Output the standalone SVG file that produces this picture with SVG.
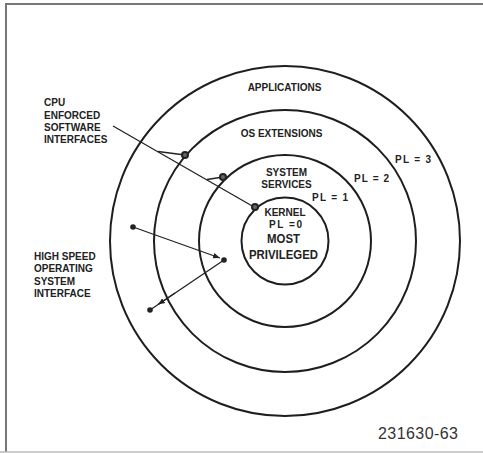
<svg xmlns="http://www.w3.org/2000/svg" width="483" height="453" viewBox="0 0 483 453">
<style>
.ring{fill:none;stroke:#1e1e1e;stroke-width:2}
.lbl{font-family:"Liberation Sans",Arial,sans-serif;font-weight:bold;font-size:10px;fill:#222}
.big{font-family:"Liberation Sans",Arial,sans-serif;font-weight:bold;font-size:13px;fill:#222}
.num{font-family:"Liberation Sans",Arial,sans-serif;font-size:16px;fill:#333}
.ln{fill:none;stroke:#222;stroke-width:1.3}
.port{fill:#666;stroke:#222;stroke-width:2}
.dot{fill:#222}
</style>
<defs>
<marker id="ah" viewBox="0 0 10 10" refX="10" refY="5" markerWidth="7" markerHeight="7" markerUnits="userSpaceOnUse" orient="auto">
<path d="M0,1 L10,5 L0,9 Z" fill="#222"/>
</marker>
</defs>
<rect width="483" height="453" fill="#fff"/>
<g id="frame">
<path d="M6,452 V4 H483" fill="none" stroke="#777" stroke-width="2"/>
<path d="M0,452 H483" fill="none" stroke="#bbb" stroke-width="1.5"/>
</g>
<g id="applications">
<circle class="ring" cx="285" cy="241" r="175"/>
<text class="lbl" x="284.5" y="91" text-anchor="middle">APPLICATIONS</text>
<text class="lbl" x="395" y="163" textLength="36" lengthAdjust="spacing">PL = 3</text>
</g>
<g id="os-extensions">
<circle class="ring" cx="285" cy="241" r="131"/>
<text class="lbl" x="281.5" y="137" text-anchor="middle">OS EXTENSIONS</text>
<text class="lbl" x="354" y="182" textLength="35" lengthAdjust="spacing">PL = 2</text>
</g>
<g id="system-services">
<circle class="ring" cx="285" cy="241" r="86"/>
<text class="lbl" x="286.5" y="176" text-anchor="middle">SYSTEM</text>
<text class="lbl" x="286.5" y="188" text-anchor="middle">SERVICES</text>
<text class="lbl" x="312" y="201" textLength="36" lengthAdjust="spacing">PL = 1</text>
</g>
<g id="kernel">
<circle class="ring" cx="285" cy="241" r="43.5"/>
<text class="lbl" x="285" y="216" text-anchor="middle" font-size="10.5">KERNEL</text>
<text class="lbl" x="269" y="228" textLength="33" lengthAdjust="spacing">PL =0</text>
<text class="big" x="267" y="243" textLength="33" lengthAdjust="spacingAndGlyphs">MOST</text>
<text class="big" x="249" y="259" textLength="69" lengthAdjust="spacingAndGlyphs">PRIVILEGED</text>
</g>
<g id="cpu-label">
<text class="lbl" x="44" y="106">CPU</text>
<text class="lbl" x="44" y="118.5">ENFORCED</text>
<text class="lbl" x="44" y="131">SOFTWARE</text>
<text class="lbl" x="44" y="143">INTERFACES</text>
</g>
<g id="hs-label">
<text class="lbl" x="34" y="259.5">HIGH SPEED</text>
<text class="lbl" x="34" y="272">OPERATING</text>
<text class="lbl" x="34" y="284.5">SYSTEM</text>
<text class="lbl" x="34" y="297">INTERFACE</text>
</g>
<g id="figure-number">
<text class="num" x="378" y="439" textLength="80" lengthAdjust="spacing">231630-63</text>
</g>
<g id="connectors">
<path class="ln" d="M113,126 L254,207"/>
<path class="ln" d="M158,151.5 L185,155"/>
<path class="ln" d="M207,179.5 L223,177"/>
<circle class="port" cx="185" cy="155" r="3"/>
<circle class="port" cx="223" cy="177" r="3"/>
<circle class="port" cx="255" cy="207" r="3"/>
<circle class="dot" cx="133" cy="227" r="2.8"/>
<path class="ln" d="M133,227 L220,258" marker-end="url(#ah)"/>
<circle class="dot" cx="224" cy="260" r="2.8"/>
<path class="ln" d="M224,260 L150,310"/>
<path class="ln" d="M175,293 L158,304.5" marker-end="url(#ah)"/>
<circle class="dot" cx="150" cy="310" r="2.8"/>
</g>
</svg>
